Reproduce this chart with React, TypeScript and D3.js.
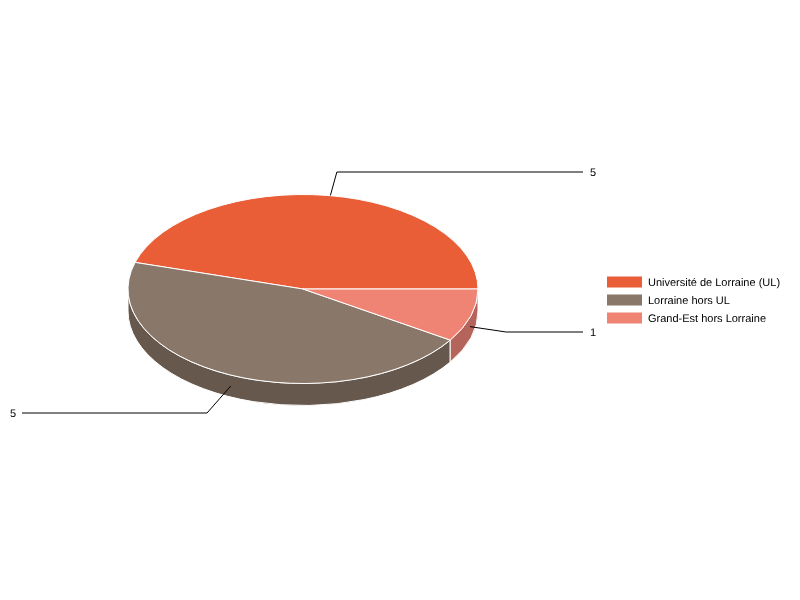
import React from 'react';
import * as d3 from 'd3';

const categories = ['Université de Lorraine (UL)', 'Lorraine hors UL', 'Grand-Est hors Lorraine'];
const values = [5, 5, 1];
const topColors = ['#e95d37', '#89786a', '#ef8374'];
const sideColors = ['#a34127', '#67584d', '#b4645a'];

const WIDTH = 800;
const HEIGHT = 600;
const cx = 303;
const cy = 289;
const rx = 175;
const ry = 94.5;
const depth = 22;

// how far each leader elbow sits from the centre, in radii
const elbowReach = [1.36, 1.32, 1.21];
// small sideways offset where each leader meets the pie
const leaderNudge = [2.5, 0.5, -1];
const labelY = [172, 413, 332];

const FONT = '"Liberation Sans", Arial, sans-serif';

const px = (a: number) => cx + rx * Math.sin(a);
const py = (a: number) => cy - ry * Math.cos(a);

// angles run counter-clockwise from 3 o'clock
const pie = d3
  .pie<number>()
  .sort(null)
  .startAngle(Math.PI / 2)
  .endAngle(Math.PI / 2 - 2 * Math.PI);
const slices = pie(values);

const topPath = (a0: number, a1: number) => {
  const large = Math.abs(a1 - a0) > Math.PI ? 1 : 0;
  return `M${cx},${cy}L${px(a0)},${py(a0)}A${rx},${ry} 0 ${large} 0 ${px(a1)},${py(a1)}Z`;
};

// the wall is only visible on the front half of the ellipse (cos a < 0)
const sidePath = (a0: number, a1: number) => {
  const lo = Math.min(a0, a1);
  const hi = Math.max(a0, a1);
  const parts: string[] = [];
  for (let k = -2; k <= 1; k++) {
    const s = Math.max(lo, Math.PI / 2 + 2 * k * Math.PI);
    const e = Math.min(hi, (3 * Math.PI) / 2 + 2 * k * Math.PI);
    if (e <= s) continue;
    parts.push(
      `M${px(e)},${py(e)}A${rx},${ry} 0 0 0 ${px(s)},${py(s)}` +
        `L${px(s)},${py(s) + depth}A${rx},${ry} 0 0 1 ${px(e)},${py(e) + depth}Z`
    );
  }
  return parts.join('');
};

const legendY = d3
  .scalePoint<string>()
  .domain(categories)
  .range([282, 318]);

const leader = d3.line<[number, number]>();

export default function App() {
  return (
    <svg
      width={WIDTH}
      height={HEIGHT}
      style={{ position: 'absolute', left: 0, top: 0, willChange: 'transform' }}
      fontFamily={FONT}
      fontSize={11}
      textRendering="geometricPrecision"
    >
      {slices.map((s, i) => (
        <path
          key={'side' + i}
          d={sidePath(s.startAngle, s.endAngle)}
          fill={sideColors[i]}
          stroke="#fff"
          strokeWidth={1}
        />
      ))}
      {slices.map((s, i) => (
        <path
          key={'top' + i}
          d={topPath(s.startAngle, s.endAngle)}
          fill={topColors[i]}
          stroke="#fff"
          strokeWidth={1}
        />
      ))}
      {slices.map((s, i) => {
        const mid = (s.startAngle + s.endAngle) / 2;
        const front = Math.cos(mid) < 0;
        const startY = py(mid) + (front ? depth / 2 : 0);
        const elbow: [number, number] = [
          cx + rx * elbowReach[i] * Math.sin(mid),
          labelY[i],
        ];
        const right = Math.sin(mid) > 0;
        const d = leader([
          [px(mid) + leaderNudge[i], startY],
          elbow,
          [right ? 583 : 22, labelY[i]],
        ]);
        return (
          <g key={'label' + i}>
            <path d={d ?? ''} fill="none" stroke="#000" strokeWidth={1} />
            <text
              x={right ? 590 : 16}
              y={labelY[i] + 4}
              textAnchor={right ? 'start' : 'end'}
              fill="#000"
            >
              {values[i]}
            </text>
          </g>
        );
      })}
      {categories.map((c, i) => (
        <g key={c}>
          <rect
            x={607}
            y={(legendY(c) ?? 0) - 5.5}
            width={35}
            height={11}
            fill={topColors[i]}
          />
          <text x={648} y={(legendY(c) ?? 0) + 4} fill="#000">
            {c}
          </text>
        </g>
      ))}
    </svg>
  );
}
